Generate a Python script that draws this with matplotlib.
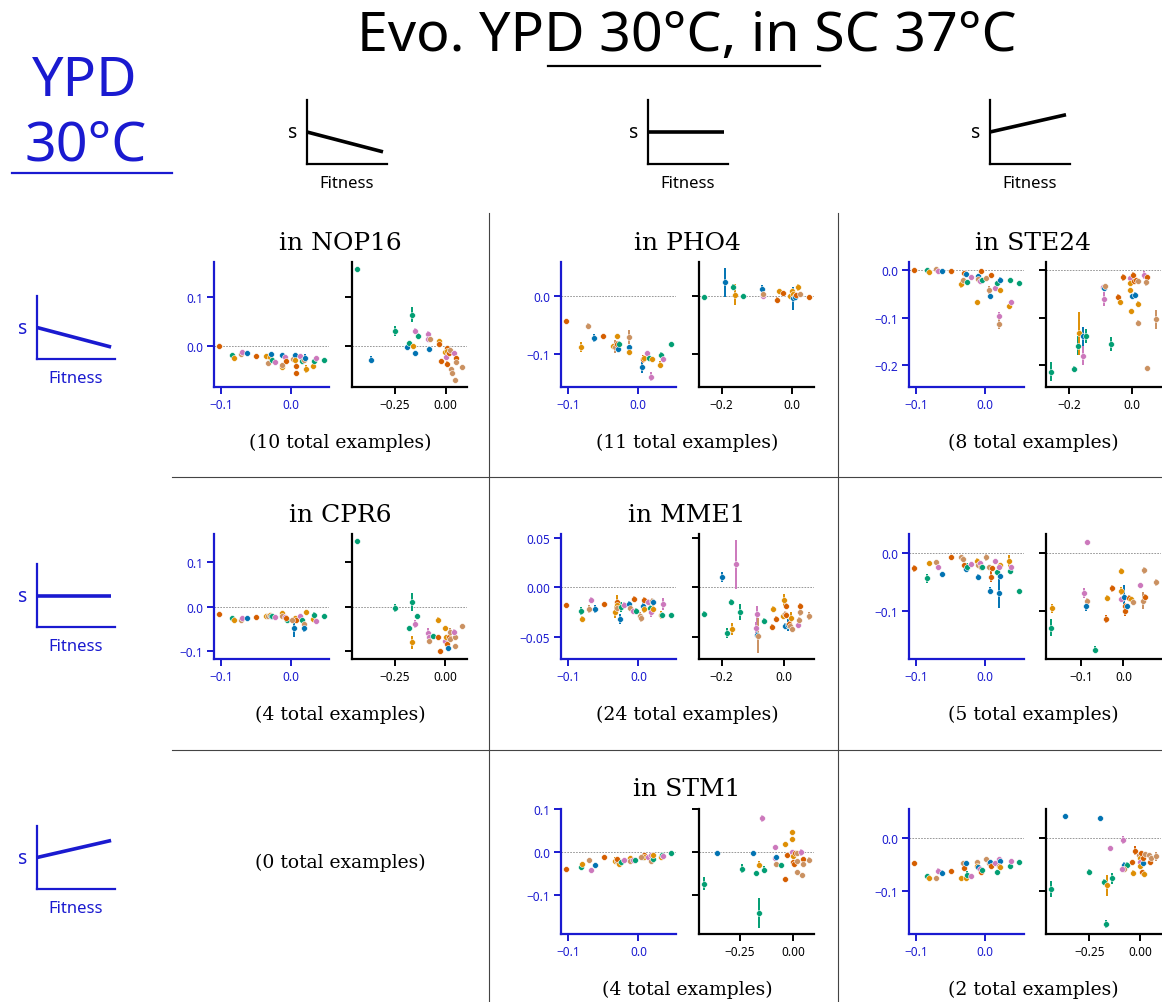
import matplotlib
matplotlib.use('Agg')
import matplotlib.pyplot as plt
from matplotlib.ticker import MultipleLocator
from matplotlib.lines import Line2D

plt.rcParams['font.family'] = ['Noto Sans', 'DejaVu Sans']

# ---------------- data: (fitness, s, s_err, colour code) ----------------
PALETTE = {'b': '#0173b2', 'o': '#de8f05', 'g': '#029e73',
           'r': '#d55e00', 'p': '#cc78bc', 't': '#ca9161'}

NOP16_L = [(-0.103, 0.000, 0.002, 'r'), (-0.0845, -0.019, 0.003, 'g'), (-0.082, -0.026, 0.003, 'o'),
           (-0.072, -0.017, 0.002, 't'), (-0.070, -0.013, 0.003, 'p'), (-0.063, -0.015, 0.002, 'b'),
           (-0.050, -0.021, 0.002, 'r'), (-0.036, -0.021, 0.003, 'o'), (-0.032, -0.037, 0.004, 't'),
           (-0.030, -0.024, 0.003, 'o'), (-0.028, -0.017, 0.004, 'b'), (-0.027, -0.030, 0.006, 'g'),
           (-0.022, -0.035, 0.003, 'p'), (-0.012, -0.019, 0.003, 'b'), (-0.012, -0.045, 0.003, 'o'),
           (-0.012, -0.040, 0.003, 't'), (-0.008, -0.023, 0.003, 'p'), (-0.006, -0.032, 0.003, 'r'),
           (0.003, -0.027, 0.004, 't'), (0.006, -0.019, 0.003, 'b'), (0.006, -0.030, 0.003, 'o'),
           (0.008, -0.042, 0.006, 'r'), (0.008, -0.057, 0.005, 'r'), (0.014, -0.022, 0.003, 'p'),
           (0.016, -0.032, 0.003, 'g'), (0.019, -0.029, 0.004, 't'), (0.021, -0.026, 0.008, 'b'),
           (0.022, -0.049, 0.008, 'o'), (0.033, -0.043, 0.005, 'o'), (0.034, -0.032, 0.003, 'g'),
           (0.037, -0.025, 0.004, 'p'), (0.048, -0.030, 0.003, 'g')]
NOP16_R = [(-0.436, 0.158, 0.003, 'g'), (-0.370, -0.029, 0.007, 'b'), (-0.250, 0.030, 0.010, 'g'),
           (-0.192, -0.003, 0.004, 'b'), (-0.181, 0.005, 0.004, 'g'), (-0.166, 0.064, 0.016, 'g'),
           (-0.163, 0.000, 0.004, 'o'), (-0.150, -0.016, 0.004, 'b'), (-0.150, 0.031, 0.005, 'p'),
           (-0.138, 0.020, 0.006, 'g'), (-0.086, 0.024, 0.007, 'p'), (-0.086, 0.013, 0.003, 'p'),
           (-0.079, 0.014, 0.003, 't'), (-0.082, -0.008, 0.004, 'b'), (-0.035, 0.009, 0.003, 'o'),
           (-0.035, 0.004, 0.003, 'r'), (-0.025, -0.032, 0.004, 'r'), (-0.003, -0.013, 0.004, 'o'),
           (0.005, -0.005, 0.004, 'r'), (0.000, -0.023, 0.004, 'p'), (0.005, -0.038, 0.007, 'r'),
           (0.008, -0.012, 0.004, 'o'), (0.016, -0.016, 0.004, 'r'), (0.020, -0.010, 0.003, 't'),
           (0.025, -0.049, 0.003, 't'), (0.030, -0.057, 0.003, 't'), (0.041, -0.016, 0.004, 'p'),
           (0.051, -0.025, 0.003, 'r'), (0.051, -0.035, 0.003, 't'), (0.048, -0.071, 0.003, 't'),
           (0.079, -0.045, 0.003, 't')]

PHO4_L = [(-0.103, -0.043, 0.003, 'r'), (-0.082, -0.088, 0.008, 'o'), (-0.072, -0.051, 0.004, 't'),
          (-0.063, -0.073, 0.007, 'b'), (-0.050, -0.069, 0.003, 'r'), (-0.036, -0.086, 0.004, 'o'),
          (-0.032, -0.087, 0.012, 't'), (-0.030, -0.082, 0.004, 'r'), (-0.030, -0.069, 0.003, 'o'),
          (-0.028, -0.091, 0.006, 'b'), (-0.027, -0.082, 0.005, 'g'), (-0.012, -0.070, 0.012, 't'),
          (-0.012, -0.088, 0.004, 'b'), (-0.012, -0.096, 0.003, 'o'), (0.006, -0.122, 0.010, 'b'),
          (0.008, -0.109, 0.007, 'r'), (0.009, -0.107, 0.004, 'o'), (0.014, -0.099, 0.004, 'p'),
          (0.016, -0.106, 0.005, 'g'), (0.019, -0.139, 0.008, 'p'), (0.021, -0.108, 0.003, 'o'),
          (0.034, -0.101, 0.005, 'g'), (0.033, -0.118, 0.006, 'o'), (0.037, -0.109, 0.004, 'p'),
          (0.048, -0.083, 0.003, 'g')]
PHO4_R = [(-0.249, -0.002, 0.004, 'g'), (-0.191, 0.024, 0.025, 'b'), (-0.167, 0.016, 0.004, 'g'),
          (-0.163, 0.002, 0.018, 'o'), (-0.139, 0.001, 0.003, 'g'), (-0.086, 0.012, 0.007, 'b'),
          (-0.084, 0.001, 0.003, 'p'), (-0.082, 0.004, 0.003, 't'), (-0.042, -0.007, 0.005, 'r'),
          (-0.036, 0.008, 0.003, 'o'), (-0.027, 0.005, 0.004, 'r'), (-0.006, 0.000, 0.003, 'o'),
          (0.000, 0.008, 0.004, 'o'), (0.001, -0.004, 0.020, 'b'), (0.003, 0.003, 0.004, 'o'),
          (0.008, 0.000, 0.003, 'r'), (0.009, -0.002, 0.004, 'b'), (0.012, 0.002, 0.003, 'r'),
          (0.017, 0.015, 0.006, 'o'), (0.023, 0.003, 0.003, 't'), (0.047, -0.001, 0.003, 'r')]

STE24_L = [(-0.103, 0.001, 0.002, 'r'), (-0.084, 0.000, 0.002, 'g'), (-0.082, -0.004, 0.002, 'o'),
           (-0.072, 0.003, 0.002, 't'), (-0.068, -0.001, 0.002, 'p'), (-0.063, -0.001, 0.002, 'b'),
           (-0.050, -0.003, 0.002, 'r'), (-0.035, -0.030, 0.008, 'o'), (-0.032, -0.020, 0.004, 't'),
           (-0.030, -0.006, 0.003, 'r'), (-0.028, -0.008, 0.003, 'b'), (-0.026, -0.025, 0.004, 'g'),
           (-0.020, -0.014, 0.003, 'p'), (-0.012, -0.068, 0.003, 'o'), (-0.011, -0.012, 0.003, 'b'),
           (-0.010, -0.018, 0.004, 't'), (-0.007, -0.024, 0.004, 'p'), (-0.006, -0.003, 0.002, 'r'),
           (-0.004, -0.020, 0.003, 'g'), (0.002, -0.017, 0.003, 't'), (0.005, -0.042, 0.009, 't'),
           (0.007, -0.054, 0.004, 'b'), (0.009, -0.011, 0.004, 'r'), (0.015, -0.037, 0.003, 'p'),
           (0.017, -0.028, 0.004, 'g'), (0.022, -0.042, 0.004, 'o'), (0.021, -0.020, 0.006, 'b'),
           (0.020, -0.096, 0.008, 'p'), (0.020, -0.113, 0.010, 't'), (0.035, -0.075, 0.004, 'o'),
           (0.038, -0.068, 0.003, 'p'), (0.036, -0.020, 0.002, 'g'), (0.049, -0.027, 0.002, 'g')]
STE24_R = [(-0.256, -0.214, 0.020, 'g'), (-0.184, -0.208, 0.006, 'g'), (-0.171, -0.159, 0.020, 'g'),
           (-0.168, -0.133, 0.045, 'o'), (-0.156, -0.180, 0.020, 'p'), (-0.154, -0.139, 0.020, 'b'),
           (-0.144, -0.139, 0.015, 'g'), (-0.067, -0.156, 0.015, 'g'), (-0.091, -0.036, 0.004, 'p'),
           (-0.089, -0.038, 0.004, 'b'), (-0.085, -0.034, 0.004, 't'), (-0.087, -0.061, 0.015, 'p'),
           (-0.043, -0.056, 0.005, 'r'), (-0.038, -0.068, 0.006, 'o'), (-0.029, -0.015, 0.007, 'r'),
           (-0.007, -0.017, 0.004, 'p'), (-0.005, -0.027, 0.004, 'o'), (-0.005, -0.042, 0.005, 'o'),
           (-0.002, -0.086, 0.004, 'o'), (0.003, -0.011, 0.006, 'r'), (0.000, -0.054, 0.004, 'b'),
           (0.010, -0.052, 0.006, 'b'), (0.007, -0.022, 0.004, 'r'), (0.012, -0.021, 0.004, 'r'),
           (0.021, -0.023, 0.004, 't'), (0.018, -0.072, 0.006, 'o'), (0.020, -0.111, 0.005, 't'),
           (0.038, -0.010, 0.008, 'p'), (0.048, -0.015, 0.004, 'r'), (0.045, -0.025, 0.008, 't'),
           (0.047, -0.206, 0.003, 't'), (0.076, -0.103, 0.020, 't')]

CPR6_L = [(-0.103, -0.016, 0.002, 'r'), (-0.085, -0.025, 0.003, 'g'), (-0.082, -0.029, 0.002, 'o'),
          (-0.072, -0.029, 0.002, 't'), (-0.070, -0.025, 0.003, 'p'), (-0.063, -0.025, 0.003, 'b'),
          (-0.050, -0.023, 0.002, 'r'), (-0.036, -0.021, 0.005, 'o'), (-0.032, -0.022, 0.003, 't'),
          (-0.030, -0.019, 0.003, 'o'), (-0.028, -0.022, 0.003, 'b'), (-0.027, -0.022, 0.003, 'g'),
          (-0.022, -0.023, 0.002, 'p'), (-0.012, -0.015, 0.003, 'o'), (-0.012, -0.021, 0.003, 't'),
          (-0.008, -0.023, 0.003, 'p'), (-0.005, -0.029, 0.003, 'g'), (-0.006, -0.025, 0.003, 'r'),
          (0.005, -0.049, 0.020, 'b'), (0.006, -0.025, 0.003, 'o'), (0.008, -0.029, 0.003, 'r'),
          (0.002, -0.029, 0.003, 't'), (0.014, -0.022, 0.003, 'p'), (0.016, -0.031, 0.003, 'g'),
          (0.019, -0.038, 0.003, 't'), (0.020, -0.049, 0.008, 'b'), (0.022, -0.013, 0.003, 'o'),
          (0.033, -0.027, 0.003, 'o'), (0.034, -0.019, 0.008, 'g'), (0.037, -0.032, 0.003, 'p'),
          (0.048, -0.020, 0.002, 'g')]
CPR6_R = [(-0.436, 0.148, 0.003, 'g'), (-0.250, -0.003, 0.010, 'g'), (-0.166, 0.010, 0.020, 'g'),
          (-0.179, -0.049, 0.003, 'g'), (-0.163, -0.080, 0.015, 'o'), (-0.150, -0.039, 0.010, 'p'),
          (-0.138, -0.022, 0.005, 'g'), (-0.086, -0.059, 0.010, 'p'), (-0.082, -0.069, 0.004, 'p'),
          (-0.079, -0.077, 0.003, 't'), (-0.063, -0.065, 0.003, 'g'), (-0.036, -0.069, 0.003, 'r'),
          (-0.035, -0.029, 0.005, 'o'), (-0.003, -0.078, 0.003, 'p'), (-0.025, -0.100, 0.005, 'r'),
          (0.000, -0.048, 0.004, 'o'), (0.005, -0.069, 0.004, 'o'), (0.007, -0.083, 0.010, 'r'),
          (0.018, -0.069, 0.012, 'r'), (0.013, -0.094, 0.003, 'b'), (0.021, -0.057, 0.010, 't'),
          (0.021, -0.073, 0.003, 't'), (0.049, -0.069, 0.004, 't'), (0.049, -0.089, 0.003, 't'),
          (0.041, -0.056, 0.005, 'p'), (0.081, -0.044, 0.006, 't')]

MME1_L = [(-0.103, -0.0177, 0.002, 'r'), (-0.082, -0.024, 0.004, 'g'), (-0.080, -0.032, 0.003, 'o'),
          (-0.070, -0.022, 0.004, 't'), (-0.068, -0.013, 0.003, 'p'), (-0.062, -0.022, 0.004, 'b'),
          (-0.049, -0.017, 0.002, 'r'), (-0.034, -0.025, 0.006, 'o'), (-0.031, -0.015, 0.004, 'r'),
          (-0.030, -0.018, 0.010, 'o'), (-0.030, -0.021, 0.004, 't'), (-0.027, -0.032, 0.005, 'b'),
          (-0.025, -0.020, 0.005, 'g'), (-0.021, -0.018, 0.003, 'p'), (-0.013, -0.017, 0.003, 'b'),
          (-0.012, -0.021, 0.003, 't'), (-0.007, -0.012, 0.003, 'r'), (-0.008, -0.024, 0.003, 'p'),
          (-0.004, -0.024, 0.003, 'g'), (0.002, -0.029, 0.004, 't'), (0.004, -0.031, 0.004, 't'),
          (0.006, -0.019, 0.006, 'b'), (0.008, -0.013, 0.003, 'r'), (0.008, -0.022, 0.004, 'o'),
          (0.013, -0.015, 0.003, 'p'), (0.016, -0.021, 0.003, 'g'), (0.018, -0.025, 0.005, 'p'),
          (0.019, -0.014, 0.003, 't'), (0.020, -0.015, 0.003, 'b'), (0.021, -0.022, 0.004, 'o'),
          (0.032, -0.028, 0.004, 'o'), (0.035, -0.017, 0.006, 'p'), (0.033, -0.028, 0.003, 'g'),
          (0.046, -0.028, 0.002, 'g')]
MME1_R = [(-0.256, -0.027, 0.003, 'g'), (-0.198, 0.010, 0.005, 'b'), (-0.184, -0.046, 0.005, 'g'),
          (-0.168, -0.042, 0.006, 'o'), (-0.169, -0.015, 0.003, 'g'), (-0.154, 0.023, 0.025, 'p'),
          (-0.143, -0.025, 0.008, 'g'), (-0.087, -0.027, 0.008, 'p'), (-0.090, -0.041, 0.006, 'p'),
          (-0.088, -0.048, 0.004, 'b'), (-0.084, -0.049, 0.018, 't'), (-0.064, -0.034, 0.003, 'g'),
          (-0.041, -0.040, 0.003, 'r'), (-0.037, -0.022, 0.003, 'o'), (-0.026, -0.032, 0.003, 'r'),
          (-0.004, -0.029, 0.003, 'o'), (0.000, -0.013, 0.006, 'o'), (0.005, -0.019, 0.003, 'r'),
          (0.003, -0.027, 0.003, 't'), (0.006, -0.028, 0.003, 'r'), (0.003, -0.039, 0.003, 'b'),
          (0.011, -0.038, 0.006, 'b'), (0.014, -0.037, 0.003, 'r'), (0.021, -0.031, 0.006, 'o'),
          (0.019, -0.039, 0.003, 't'), (0.025, -0.042, 0.003, 't'), (0.043, -0.038, 0.003, 'p'),
          (0.048, -0.033, 0.003, 't'), (0.050, -0.025, 0.004, 't'), (0.050, -0.019, 0.003, 'r'),
          (0.078, -0.029, 0.004, 't')]

ROW2_COL3_L = [(-0.103, -0.027, 0.006, 'r'), (-0.084, -0.044, 0.008, 'g'), (-0.082, -0.018, 0.004, 'o'),
               (-0.072, -0.016, 0.004, 't'), (-0.069, -0.024, 0.006, 'p'), (-0.063, -0.037, 0.004, 'b'),
               (-0.050, -0.008, 0.002, 'r'), (-0.035, -0.008, 0.003, 't'), (-0.032, -0.011, 0.003, 't'),
               (-0.030, -0.021, 0.004, 'r'), (-0.028, -0.028, 0.003, 'b'), (-0.026, -0.024, 0.006, 'g'),
               (-0.020, -0.020, 0.004, 'p'), (-0.012, -0.014, 0.004, 'o'), (-0.011, -0.041, 0.005, 'b'),
               (-0.010, -0.022, 0.004, 't'), (-0.008, -0.017, 0.003, 'p'), (-0.006, -0.025, 0.004, 'r'),
               (-0.004, -0.024, 0.003, 'g'), (0.002, -0.008, 0.006, 't'), (0.005, -0.025, 0.003, 't'),
               (0.007, -0.065, 0.006, 'b'), (0.009, -0.041, 0.010, 'r'), (0.010, -0.027, 0.004, 'r'),
               (0.015, -0.014, 0.003, 'p'), (0.017, -0.034, 0.003, 'g'), (0.022, -0.022, 0.004, 'o'),
               (0.020, -0.025, 0.003, 'p'), (0.021, -0.040, 0.004, 'b'), (0.020, -0.069, 0.025, 'b'),
               (0.035, -0.014, 0.010, 'o'), (0.036, -0.032, 0.004, 'g'), (0.038, -0.024, 0.003, 'p'),
               (0.049, -0.066, 0.002, 'g')]
ROW2_COL3_R = [(-0.168, -0.095, 0.008, 'o'), (-0.170, -0.128, 0.015, 'g'), (-0.087, 0.018, 0.004, 'p'),
               (-0.094, -0.069, 0.008, 'p'), (-0.085, -0.082, 0.004, 't'), (-0.088, -0.092, 0.007, 'b'),
               (-0.066, -0.166, 0.006, 'g'), (-0.042, -0.114, 0.007, 'r'), (-0.039, -0.078, 0.005, 'o'),
               (-0.028, -0.061, 0.006, 'r'), (-0.006, -0.031, 0.005, 'o'), (-0.006, -0.065, 0.007, 'o'),
               (-0.006, -0.080, 0.004, 'p'), (0.001, -0.075, 0.020, 'b'), (0.004, -0.091, 0.005, 'r'),
               (0.004, -0.099, 0.010, 'r'), (0.009, -0.092, 0.005, 'b'), (0.013, -0.077, 0.004, 'r'),
               (0.017, -0.079, 0.004, 'o'), (0.022, -0.084, 0.004, 't'), (0.039, -0.056, 0.004, 'p'),
               (0.048, -0.030, 0.006, 't'), (0.046, -0.082, 0.015, 't'), (0.050, -0.076, 0.006, 'r'),
               (0.076, -0.051, 0.006, 't')]

STM1_L = [(-0.103, -0.040, 0.003, 'r'), (-0.082, -0.036, 0.004, 'g'), (-0.080, -0.029, 0.004, 'o'),
          (-0.070, -0.019, 0.003, 't'), (-0.068, -0.043, 0.006, 'p'), (-0.062, -0.030, 0.003, 'b'),
          (-0.049, -0.011, 0.002, 'r'), (-0.034, -0.020, 0.008, 'o'), (-0.031, -0.020, 0.004, 't'),
          (-0.031, -0.016, 0.004, 'r'), (-0.028, -0.027, 0.003, 'o'), (-0.025, -0.023, 0.004, 'g'),
          (-0.021, -0.019, 0.003, 'p'), (-0.012, -0.017, 0.003, 'b'), (-0.012, -0.014, 0.003, 'o'),
          (-0.012, -0.022, 0.003, 't'), (-0.008, -0.019, 0.003, 'p'), (-0.005, -0.019, 0.003, 'g'),
          (0.006, -0.012, 0.003, 'b'), (0.008, -0.008, 0.004, 'r'), (0.008, -0.012, 0.003, 'o'),
          (0.003, -0.011, 0.003, 't'), (0.013, -0.012, 0.003, 'p'), (0.018, -0.006, 0.004, 'p'),
          (0.018, -0.020, 0.004, 't'), (0.020, -0.016, 0.003, 'g'), (0.021, -0.008, 0.003, 'o'),
          (0.032, -0.011, 0.003, 'o'), (0.033, -0.006, 0.003, 'g'), (0.035, -0.010, 0.003, 'p'),
          (0.046, -0.002, 0.002, 'g')]
STM1_R = [(-0.417, -0.074, 0.015, 'g'), (-0.355, -0.002, 0.003, 'b'), (-0.242, -0.039, 0.010, 'g'),
          (-0.188, -0.002, 0.003, 'b'), (-0.175, -0.049, 0.004, 'g'), (-0.159, -0.030, 0.008, 'o'),
          (-0.145, 0.079, 0.008, 'p'), (-0.161, -0.143, 0.035, 'g'), (-0.136, -0.041, 0.008, 'g'),
          (-0.083, 0.011, 0.004, 'p'), (-0.081, -0.027, 0.003, 't'), (-0.086, -0.013, 0.004, 'p'),
          (-0.080, -0.011, 0.003, 'b'), (-0.059, -0.031, 0.003, 'g'), (-0.037, 0.018, 0.004, 'o'),
          (-0.037, -0.062, 0.003, 'r'), (-0.027, -0.006, 0.003, 'r'), (-0.005, 0.046, 0.003, 'o'),
          (-0.005, 0.031, 0.003, 'o'), (-0.006, 0.001, 0.003, 'p'), (-0.002, -0.009, 0.003, 'o'),
          (0.000, -0.023, 0.003, 'r'), (0.002, -0.028, 0.004, 'r'), (0.009, -0.002, 0.004, 'r'),
          (0.016, -0.002, 0.003, 't'), (0.017, -0.022, 0.003, 't'), (0.019, -0.047, 0.003, 't'),
          (0.038, -0.001, 0.008, 'p'), (0.044, -0.017, 0.004, 'r'), (0.044, -0.027, 0.004, 't'),
          (0.042, -0.053, 0.003, 't'), (0.073, -0.018, 0.006, 't')]

ROW3_COL3_L = [(-0.103, -0.047, 0.002, 'r'), (-0.084, -0.071, 0.004, 'g'), (-0.082, -0.075, 0.003, 'o'),
               (-0.072, -0.076, 0.003, 't'), (-0.069, -0.062, 0.006, 'p'), (-0.063, -0.066, 0.006, 'b'),
               (-0.050, -0.062, 0.002, 'r'), (-0.035, -0.076, 0.004, 'o'), (-0.032, -0.047, 0.003, 't'),
               (-0.031, -0.057, 0.003, 'r'), (-0.028, -0.047, 0.004, 'b'), (-0.028, -0.075, 0.004, 'o'),
               (-0.026, -0.070, 0.008, 'g'), (-0.020, -0.071, 0.004, 'p'), (-0.012, -0.045, 0.003, 't'),
               (-0.012, -0.052, 0.003, 'o'), (-0.011, -0.054, 0.003, 'b'), (-0.007, -0.058, 0.003, 'p'),
               (-0.006, -0.063, 0.003, 'r'), (-0.004, -0.060, 0.003, 'g'), (0.002, -0.040, 0.003, 't'),
               (0.006, -0.047, 0.003, 't'), (0.007, -0.045, 0.004, 'b'), (0.009, -0.053, 0.003, 'r'),
               (0.015, -0.047, 0.003, 'p'), (0.017, -0.063, 0.003, 'g'), (0.020, -0.039, 0.003, 'p'),
               (0.021, -0.044, 0.005, 'b'), (0.020, -0.053, 0.003, 't'), (0.022, -0.055, 0.003, 'o'),
               (0.036, -0.052, 0.003, 'g'), (0.038, -0.043, 0.003, 'p'), (0.049, -0.045, 0.002, 'g')]
ROW3_COL3_R = [(-0.438, -0.095, 0.015, 'g'), (-0.372, 0.040, 0.003, 'b'), (-0.196, 0.037, 0.003, 'b'),
               (-0.253, -0.064, 0.006, 'g'), (-0.151, -0.019, 0.004, 'p'), (-0.086, -0.004, 0.008, 'p'),
               (-0.181, -0.083, 0.006, 'g'), (-0.163, -0.089, 0.020, 'o'), (-0.141, -0.076, 0.010, 'g'),
               (-0.168, -0.161, 0.008, 'g'), (-0.082, -0.050, 0.004, 'b'), (-0.064, -0.050, 0.004, 'g'),
               (-0.082, -0.058, 0.003, 't'), (-0.090, -0.059, 0.003, 'p'), (-0.041, -0.045, 0.003, 'r'),
               (-0.036, -0.065, 0.004, 'o'), (-0.025, -0.024, 0.008, 'r'), (-0.007, -0.033, 0.003, 't'),
               (-0.003, -0.037, 0.003, 'o'), (-0.003, -0.045, 0.003, 'p'), (-0.003, -0.053, 0.003, 'o'),
               (0.003, -0.028, 0.004, 'r'), (0.008, -0.063, 0.003, 'r'), (0.020, -0.067, 0.003, 'o'),
               (0.013, -0.048, 0.003, 'b'), (0.015, -0.037, 0.003, 'r'), (0.025, -0.030, 0.003, 't'),
               (0.043, -0.032, 0.003, 't'), (0.049, -0.045, 0.003, 'r'), (0.054, -0.037, 0.004, 't'),
               (0.076, -0.035, 0.008, 't')]

# panel: row, col, title, number of examples, left data, right data, y tick step, right x tick step
PANELS = [
    (0, 0, 'in NOP16', 10, NOP16_L, NOP16_R, 0.1, 0.25),
    (0, 1, 'in PHO4', 11, PHO4_L, PHO4_R, 0.1, 0.2),
    (0, 2, 'in STE24', 8, STE24_L, STE24_R, 0.1, 0.2),
    (1, 0, 'in CPR6', 4, CPR6_L, CPR6_R, 0.1, 0.25),
    (1, 1, 'in MME1', 24, MME1_L, MME1_R, 0.05, 0.2),
    (1, 2, '', 5, ROW2_COL3_L, ROW2_COL3_R, 0.1, 0.1),
    (2, 0, '', 0, None, None, None, None),
    (2, 1, 'in STM1', 4, STM1_L, STM1_R, 0.1, 0.25),
    (2, 2, '', 2, ROW3_COL3_L, ROW3_COL3_R, 0.1, 0.25),
]
SCHEMATIC_SLOPES = [-0.31, 0.0, 0.27]

# ---------------- layout ----------------
W, H = 1162, 1003
BLUE = '#1a1ad0'
fig = plt.figure(figsize=(W / 100, H / 100), dpi=100)


def ax_px(x0, y0, w, h):
    return fig.add_axes([x0 / W, 1 - (y0 + h) / H, w / W, h / H])


def text_px(x, y, s, **kw):
    fig.text(x / W, 1 - y / H, s, ha='center', va='center', **kw)


def hline_px(x0, x1, y, **kw):
    fig.add_artist(Line2D([x0 / W, x1 / W], [1 - y / H, 1 - y / H], transform=fig.transFigure, **kw))


def vline_px(x, y0, y1, **kw):
    fig.add_artist(Line2D([x / W, x / W], [1 - y0 / H, 1 - y1 / H], transform=fig.transFigure, **kw))


def schematic(x0, y0, w, h, slope, color):
    ax = ax_px(x0, y0, w, h)
    ax.set_xlim(0, 1)
    ax.set_ylim(0, 1)
    ax.plot([0.0, 0.95], [0.5, 0.5 + slope], color=color, lw=2.6, solid_capstyle='butt')
    for s in ('top', 'right'):
        ax.spines[s].set_visible(False)
    for s in ('left', 'bottom'):
        ax.spines[s].set_color(color)
        ax.spines[s].set_linewidth(1.6)
    ax.set_xticks([])
    ax.set_yticks([])
    ax.patch.set_alpha(0)
    ax.set_ylabel('s', rotation=0, color=color, fontsize=14, labelpad=10, va='center')
    ax.set_xlabel('Fitness', color=color, fontsize=12, labelpad=8)


# headers
text_px(687, 36, 'Evo. YPD 30°C, in SC 37°C', fontsize=40, color='black')
hline_px(548, 820, 67, color='black', lw=1.6)
text_px(85, 81, 'YPD', fontsize=40, color=BLUE)
text_px(86, 146, '30°C', fontsize=40, color=BLUE)
hline_px(12, 172, 174, color=BLUE, lw=1.6)

for i, sl in enumerate(SCHEMATIC_SLOPES):
    schematic([307, 648, 990][i], 101, 80, 64, sl, 'black')
    schematic(37, [297, 565, 827][i], 78, 63, sl, BLUE)

# grid separators
for x in (489, 838):
    vline_px(x, 214, 1003, color='#444444', lw=0.8)
for y in (478, 751):
    hline_px(172, 1162, y, color='#444444', lw=0.8)

COL_L = [214, 561, 909]
COL_R = [352, 699, 1046]
COL_C = [340, 687, 1033]
ROW_TOP = [263, 535, 810]
AX_W, AX_H = 115, 125


def scatter(ax, data):
    for x, y, e, c in data:
        ax.errorbar(x, y, yerr=e, fmt='o', color=PALETTE[c], ms=4.2, mew=0.4, mec='white',
                    elinewidth=1.4, ecolor=PALETTE[c], capsize=0, zorder=3)


for row, col, title, n, dl, dr, ystep, rstep in PANELS:
    top = ROW_TOP[row]
    if dl is None:
        text_px(COL_C[col], top + 53, f'({n} total examples)', fontsize=13.5, family='DejaVu Serif')
        continue
    axL = ax_px(COL_L[col], top, AX_W, AX_H)
    axR = ax_px(COL_R[col], top, AX_W, AX_H)
    axR.sharey(axL)
    scatter(axL, dl)
    scatter(axR, dr)
    for ax, color in ((axL, BLUE), (axR, 'black')):
        ax.axhline(0, color='#888888', lw=0.6, ls=(0, (2, 1.5)), zorder=1)
        for s in ('top', 'right'):
            ax.spines[s].set_visible(False)
        for s in ('left', 'bottom'):
            ax.spines[s].set_color(color)
            ax.spines[s].set_linewidth(1.6)
        ax.tick_params(colors=color, labelcolor=color, labelsize=8.5, length=5, width=1.4, pad=3)
        ax.patch.set_alpha(0)
    axL.xaxis.set_major_locator(MultipleLocator(0.1))
    axL.yaxis.set_major_locator(MultipleLocator(ystep))
    axR.xaxis.set_major_locator(MultipleLocator(rstep))
    axR.tick_params(labelleft=False)
    if title:
        text_px(COL_C[col], top - 20, title, fontsize=18, family='DejaVu Serif')
    text_px(COL_C[col], top + 180, f'({n} total examples)', fontsize=13.5, family='DejaVu Serif')

fig.savefig('out.png', dpi=100)
